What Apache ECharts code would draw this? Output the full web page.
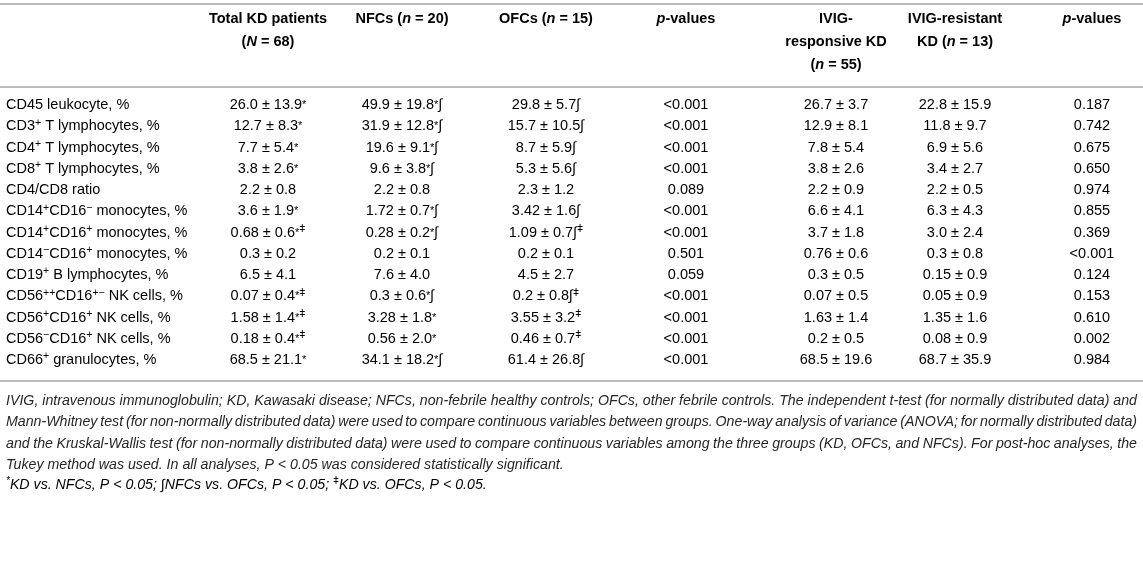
<!DOCTYPE html>
<html>
<head>
<meta charset="utf-8">
<script src="https://cdn.jsdelivr.net/npm/echarts@6/dist/echarts.min.js"></script>
<style>
  html, body { margin: 0; padding: 0; background: #fff; }
  #main { width: 1143px; height: 561px; }
</style>
</head>
<body>
<div id="main"></div>
<script>
// ---- data ----
// '^' marks superscript text in row labels
var rowLabels = [
  'CD45 leukocyte, %',
  'CD3^+^ T lymphocytes, %',
  'CD4^+^ T lymphocytes, %',
  'CD8^+^ T lymphocytes, %',
  'CD4/CD8 ratio',
  'CD14^+^CD16^−^ monocytes, %',
  'CD14^+^CD16^+^ monocytes, %',
  'CD14^−^CD16^+^ monocytes, %',
  'CD19^+^ B lymphocytes, %',
  'CD56^++^CD16^+−^ NK cells, %',
  'CD56^+^CD16^+^ NK cells, %',
  'CD56^−^CD16^+^ NK cells, %',
  'CD66^+^ granulocytes, %'
];

var headers = [
  '{h|Total KD patients}\n{h|(}{hi|N}{h| = 68)}',
  '{h|NFCs (}{hi|n}{h| = 20)}',
  '{h|OFCs (}{hi|n}{h| = 15)}',
  '{hi|p}{h|-values}',
  '{h|IVIG-}\n{h|responsive KD}\n{h|(}{hi|n}{h| = 55)}',
  '{h|IVIG-resistant}\n{h|KD (}{hi|n}{h| = 13)}',
  '{hi|p}{h|-values}'
];

var totalKD = ['26.0 ± 13.9*', '12.7 ± 8.3*', '7.7 ± 5.4*', '3.8 ± 2.6*', '2.2 ± 0.8',
  '3.6 ± 1.9*', '0.68 ± 0.6*ǂ', '0.3 ± 0.2', '6.5 ± 4.1', '0.07 ± 0.4*ǂ',
  '1.58 ± 1.4*ǂ', '0.18 ± 0.4*ǂ', '68.5 ± 21.1*'];
var nfcs = ['49.9 ± 19.8*∫', '31.9 ± 12.8*∫', '19.6 ± 9.1*∫', '9.6 ± 3.8*∫', '2.2 ± 0.8',
  '1.72 ± 0.7*∫', '0.28 ± 0.2*∫', '0.2 ± 0.1', '7.6 ± 4.0', '0.3 ± 0.6*∫',
  '3.28 ± 1.8*', '0.56 ± 2.0*', '34.1 ± 18.2*∫'];
var ofcs = ['29.8 ± 5.7∫', '15.7 ± 10.5∫', '8.7 ± 5.9∫', '5.3 ± 5.6∫', '2.3 ± 1.2',
  '3.42 ± 1.6∫', '1.09 ± 0.7∫ǂ', '0.2 ± 0.1', '4.5 ± 2.7', '0.2 ± 0.8∫ǂ',
  '3.55 ± 3.2ǂ', '0.46 ± 0.7ǂ', '61.4 ± 26.8∫'];
var pGroups = ['<0.001', '<0.001', '<0.001', '<0.001', '0.089', '<0.001', '<0.001',
  '0.501', '0.059', '<0.001', '<0.001', '<0.001', '<0.001'];
var ivigResponsive = ['26.7 ± 3.7', '12.9 ± 8.1', '7.8 ± 5.4', '3.8 ± 2.6', '2.2 ± 0.9',
  '6.6 ± 4.1', '3.7 ± 1.8', '0.76 ± 0.6', '0.3 ± 0.5', '0.07 ± 0.5',
  '1.63 ± 1.4', '0.2 ± 0.5', '68.5 ± 19.6'];
var ivigResistant = ['22.8 ± 15.9', '11.8 ± 9.7', '6.9 ± 5.6', '3.4 ± 2.7', '2.2 ± 0.5',
  '6.3 ± 4.3', '3.0 ± 2.4', '0.3 ± 0.8', '0.15 ± 0.9', '0.05 ± 0.9',
  '1.35 ± 1.6', '0.08 ± 0.9', '68.7 ± 35.9'];
var pIvig = ['0.187', '0.742', '0.675', '0.650', '0.974', '0.855', '0.369',
  '<0.001', '0.124', '0.153', '0.610', '0.002', '0.984'];

var footLines = [
  'IVIG, intravenous immunoglobulin; KD, Kawasaki disease; NFCs, non-febrile healthy controls; OFCs, other febrile controls. The independent t-test (for normally distributed data) and',
  'Mann-Whitney test (for non-normally distributed data) were used to compare continuous variables between groups. One-way analysis of variance (ANOVA; for normally distributed data)',
  'and the Kruskal-Wallis test (for non-normally distributed data) were used to compare continuous variables among the three groups (KD, OFCs, and NFCs). For post-hoc analyses, the',
  'Tukey method was used. In all analyses, P < 0.05 was considered statistically significant.'
];
var footMarks = '{fs|*}{f|KD vs. NFCs, P < 0.05; ∫NFCs vs. OFCs, P < 0.05; }{fs|ǂ}{f|KD vs. OFCs, P < 0.05.}';

var columns = [rowLabels, totalKD, nfcs, ofcs, pGroups, ivigResponsive, ivigResistant, pIvig];

// ---- layout ----
var W = 1143;
var colPos = [6, 268, 402, 546, 686, 836, 955, 1092]; // label left edge, then column centres
var FONT = '"Liberation Sans", Arial, Helvetica, sans-serif';
var FS = 14.5, FOOT_FS = 14.2;
var TXT = '#262626';
var RULE = '#bcbcbc';

var rich = {
  n: { fontSize: FS, lineHeight: 18, fontFamily: FONT, color: TXT },
  s: { fontSize: 10.5, lineHeight: 10, verticalAlign: 'top', fontFamily: FONT, color: TXT },
  a: { fontSize: 11, lineHeight: 18, fontFamily: FONT, color: TXT },
  h: { fontSize: FS, lineHeight: 23, fontWeight: 'bold', fontFamily: FONT, color: TXT },
  hi: { fontSize: FS, lineHeight: 23, fontWeight: 'bold', fontStyle: 'italic', fontFamily: FONT, color: TXT },
  f: { fontSize: FOOT_FS, lineHeight: 18, fontStyle: 'italic', fontFamily: FONT, color: TXT },
  fs: { fontSize: 10, lineHeight: 9, verticalAlign: 'top', fontStyle: 'italic', fontFamily: FONT, color: TXT }
};

// turn 'CD3^+^ T' / '12.7 ± 8.3*ǂ' into rich text
function toRich(str) {
  str = str.replace(/ǂ/g, '^ǂ^');
  var parts = str.split('^');
  var out = '';
  parts.forEach(function (p, i) {
    if (!p) return;
    if (i % 2) {
      out += '{s|' + p + '}';
    } else {
      p.split(/(\*)/).forEach(function (q) {
        if (!q) return;
        out += q === '*' ? '{a|*}' : '{n|' + q + '}';
      });
    }
  });
  return out;
}

var cells = [];
columns.forEach(function (col, c) {
  col.forEach(function (v, r) { cells.push([c, r]); });
});

var myChart = echarts.init(document.getElementById('main'));
var option = {
  animation: false,
  grid: { left: 0, right: 0, top: 94.4, height: 276.3 },
  xAxis: { type: 'value', min: 0, max: W, show: false },
  yAxis: { type: 'category', inverse: true, show: false,
    data: rowLabels.map(function (d, i) { return i; }) },
  series: [{
    type: 'custom',
    data: cells,
    renderItem: function (params, api) {
      var c = api.value(0), r = api.value(1);
      var p = api.coord([colPos[c], r]);
      return {
        type: 'text',
        x: p[0],
        y: p[1],
        style: {
          text: toRich(columns[c][r]),
          rich: rich,
          align: c === 0 ? 'left' : 'center',
          verticalAlign: 'middle'
        }
      };
    }
  }]
};
myChart.setOption(option);

// header, rules and notes
var graphics = [];
[4, 87, 381].forEach(function (y) {
  graphics.push({ type: 'line', shape: { x1: 0, y1: y, x2: W, y2: y },
    style: { stroke: RULE, lineWidth: 2 } });
});
headers.forEach(function (h, i) {
  var x = myChart.convertToPixel({ xAxisIndex: 0 }, colPos[i + 1]);
  graphics.push({ type: 'text', x: x, y: 7.5,
    style: { text: h, rich: rich, align: 'center', verticalAlign: 'top' } });
});

// justified note lines (last line of the paragraph left-aligned)
var ctx = document.createElement('canvas').getContext('2d');
var footFont = 'italic ' + FOOT_FS + 'px ' + FONT;
ctx.font = footFont;
var footLeft = 6, footRight = 1137, footY = [401, 422, 444, 465, 485];
var spaceW = ctx.measureText(' ').width;
footLines.forEach(function (line, li) {
  var words = line.split(' ');
  var widths = words.map(function (w) { return ctx.measureText(w).width; });
  var total = widths.reduce(function (a, b) { return a + b; }, 0);
  var last = li === footLines.length - 1;
  var gap = last ? spaceW : Math.max(spaceW * 0.6, (footRight - footLeft - total) / (words.length - 1));
  var x = footLeft;
  words.forEach(function (w, wi) {
    graphics.push({ type: 'text', x: x, y: footY[li],
      style: { text: w, font: footFont, fill: TXT, align: 'left', verticalAlign: 'middle' } });
    x += widths[wi] + gap;
  });
});
graphics.push({ type: 'text', x: footLeft, y: footY[4],
  style: { text: footMarks, rich: rich, align: 'left', verticalAlign: 'middle' } });

myChart.setOption({ graphic: graphics });
</script>
</body>
</html>
